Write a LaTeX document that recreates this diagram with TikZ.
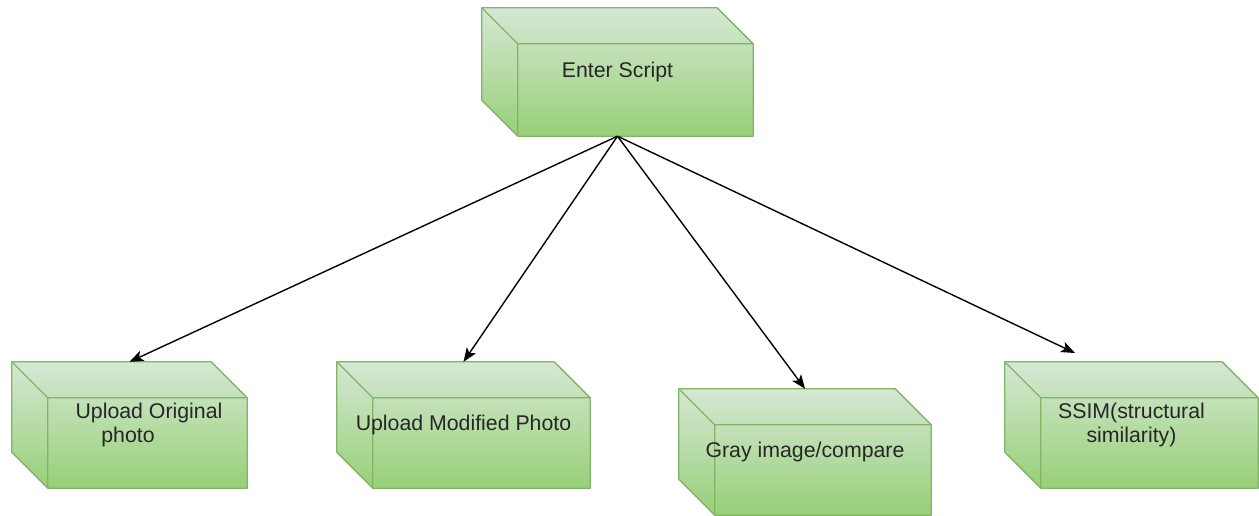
\documentclass[tikz,border=0pt]{standalone}
\usepackage{fontspec}
\setmainfont{Liberation Sans}
\usetikzlibrary{arrows.meta,positioning,calc,backgrounds}
\definecolor{cubetop}{HTML}{D5E8D4}
\definecolor{cubebot}{HTML}{97D077}
\definecolor{cubeline}{HTML}{82B366}
\definecolor{cubetext}{HTML}{262626}

% back faces of a box drawn behind the node named #1
\newcommand{\cubeback}[1]{%
  \shadedraw[top color=cubetop,bottom color=cubebot,draw=cubeline,line width=1.3pt,line join=round]
    (#1.north west) -- ([xshift=-36pt]#1.north east) -- ([yshift=-36pt]#1.north east)
    -- (#1.south east) -- ([xshift=36pt]#1.south west) -- ([yshift=36pt]#1.south west) -- cycle;
  \draw[cubeline,line width=1.3pt]
    (#1.north west) -- ([xshift=36pt,yshift=-36pt]#1.north west) -- ([yshift=-36pt]#1.north east)
    ([xshift=36pt,yshift=-36pt]#1.north west) -- ([xshift=36pt]#1.south west);
}

\tikzset{
  cubebox/.style={draw=none,inner sep=0pt,minimum height=126pt,align=center,
    text=cubetext,font=\fontsize{21.3}{23.5}\selectfont},
  flow/.style={-{Stealth[length=14pt,width=11pt,inset=3.5pt]},line width=1.4pt,black}
}

\begin{document}
\begin{tikzpicture}[x=1pt,y=-1pt]
\useasboundingbox (0,0) rectangle (1259,516);
\node[cubebox,minimum width=271pt,minimum height=128pt] (script) at (617.5,72) {Enter Script};
\node[cubebox,minimum width=235pt] (orig) at (129.5,425) {\hspace*{39pt}Upload Original\\photo\hspace*{3pt}};
\node[cubebox,minimum width=253pt] (modif) at (463.5,425) {Upload Modified Photo};
\node[cubebox,minimum width=252pt] (gray) at (805,452) {Gray image/compare};
\node[cubebox,minimum width=253pt] (ssim) at (1131.5,425) {SSIM(structural\\similarity)};
\coordinate (ssimtip) at (1075,353);
\begin{scope}[on background layer]
\cubeback{script}
\cubeback{orig}
\cubeback{modif}
\cubeback{gray}
\cubeback{ssim}
\end{scope}
\draw[flow] (script.south) -- (orig.north);
\draw[flow] (script.south) -- (modif.north);
\draw[flow] (script.south) -- (gray.north);
\draw[flow] (script.south) -- (ssimtip);
\end{tikzpicture}
\end{document}
